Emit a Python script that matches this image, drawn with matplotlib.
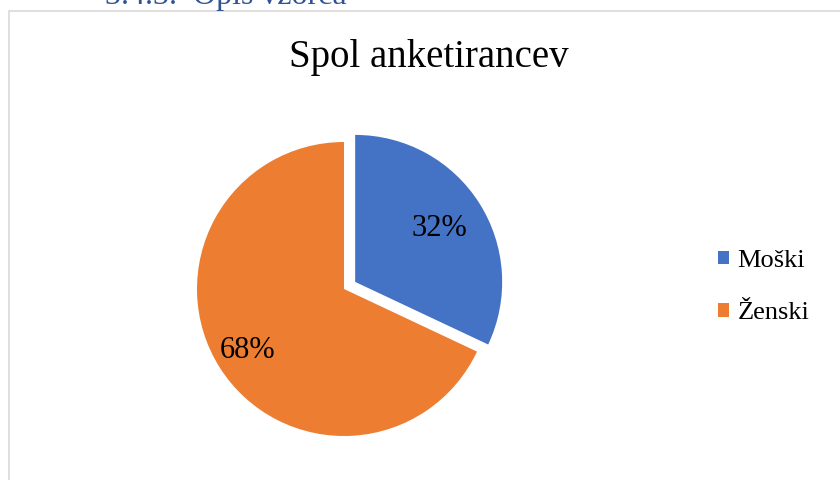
import matplotlib.pyplot as plt
from matplotlib.patches import Rectangle
import numpy as np

plt.rcParams["font.family"] = ["Liberation Serif", "DejaVu Serif"]

labels = ["Moški", "Ženski"]
shares = [32, 68]
colors = ["#4472C4", "#ED7D31"]
explode = [0.09, 0.0]
label_dist = [0.68, 0.775]

W, H = 840, 480
fig = plt.figure(figsize=(W / 100, H / 100), dpi=100)

# chart frame (cut off on right and bottom)
fig.patches.append(Rectangle((8.5 / W, -0.1), 1.0, 1.1 - 10.5 / H, transform=fig.transFigure,
                             fill=False, edgecolor="#D9D9D9", linewidth=1.2))
# heading of the page above the chart, partly cut off
fig.text(105 / W, 1 - 4 / H, "3.4.3.  Opis vzorca", color="#2F5496", fontsize=23,
         ha="left", va="baseline")

fig.text(429 / W, 1 - 57 / H, "Spol anketirancev", fontsize=28, ha="center", va="center")

cx, cy, r = 344, 480 - 289, 147
span = 1.3
ax = fig.add_axes([(cx - r * span) / W, (cy - r * span) / H, 2 * r * span / W, 2 * r * span / H])
wedges, _ = ax.pie(shares, colors=colors, explode=explode, startangle=90, counterclock=False,
                   wedgeprops=dict(linewidth=0))
ax.set_xlim(-span, span)
ax.set_ylim(-span, span)

for w, v, d in zip(wedges, shares, label_dist):
    mid = np.deg2rad((w.theta1 + w.theta2) / 2)
    x0, y0 = w.center
    ax.text(x0 + d * np.cos(mid), y0 + d * np.sin(mid), f"{v}%", fontsize=22,
            ha="center", va="center")

fig.legend(wedges, labels, loc="center left", bbox_to_anchor=(694 / W, 1 - 287 / H),
           frameon=False, fontsize=19, handlelength=0.42, handleheight=0.42,
           handletextpad=0.32, labelspacing=1.15)

fig.savefig("out.png", dpi=100)
